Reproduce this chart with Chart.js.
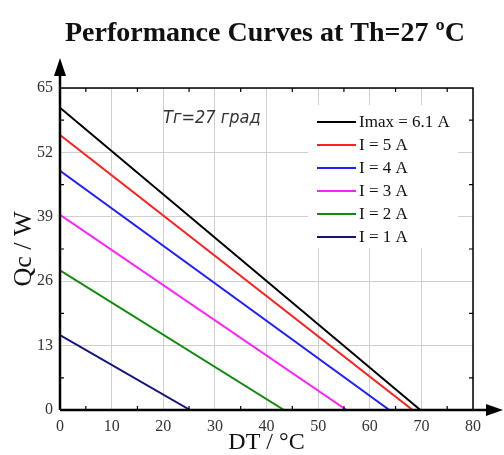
<!DOCTYPE html>
<html>
<head>
<meta charset="utf-8">
<script src="https://cdn.jsdelivr.net/npm/chart.js@4.4.0/dist/chart.umd.min.js"></script>
<style>
html, body { margin: 0; padding: 0; background: #fff; }
</style>
</head>
<body>
<canvas id="grafico" width="504" height="455"></canvas>
<script>
// Dados
const seriesLabels = ['Imax = 6.1 A', 'I = 5 A', 'I = 4 A', 'I = 3 A', 'I = 2 A', 'I = 1 A'];
const qcAtZero = [61, 55.5, 48.3, 39.4, 28.2, 15.1];   // Qc em DT = 0
const dtAtZeroQc = [69.8, 68.3, 63.8, 55.5, 43.4, 25.2]; // DT onde Qc = 0
const lineColors = ['#000000', '#ff1f1f', '#1f1fff', '#ff1fff', '#108a10', '#14147a'];
const xTicks = [0, 10, 20, 30, 40, 50, 60, 70, 80];
const yTicks = [0, 13, 26, 39, 52, 65];

const serif = '"Liberation Serif", "DejaVu Serif", serif';

const datasets = seriesLabels.map(function(label, i) {
    return {
        label: label,
        data: [{x: 0, y: qcAtZero[i]}, {x: dtAtZeroQc[i], y: 0}],
        borderColor: lineColors[i],
        borderWidth: 2,
        pointRadius: 0,
        showLine: true,
        fill: false
    };
});

// Moldura, setas, marcas, legenda e textos
const extras = {
    id: 'extras',
    afterDatasetsDraw(chart) {
        const ctx = chart.ctx;
        const a = chart.chartArea;
        const xs = chart.scales.x, ys = chart.scales.y;
        ctx.save();

        // moldura superior / direita
        ctx.strokeStyle = '#000';
        ctx.lineWidth = 1.5;
        ctx.beginPath();
        ctx.moveTo(a.left, a.top);
        ctx.lineTo(a.right, a.top);
        ctx.lineTo(a.right, a.bottom);
        ctx.stroke();

        // eixos com setas
        ctx.lineWidth = 2.5;
        ctx.beginPath();
        ctx.moveTo(a.left, a.bottom);
        ctx.lineTo(a.left, 70);
        ctx.moveTo(a.left, a.bottom);
        ctx.lineTo(492, a.bottom);
        ctx.stroke();
        ctx.fillStyle = '#000';
        ctx.beginPath();
        ctx.moveTo(a.left, 58);
        ctx.lineTo(a.left - 6, 76);
        ctx.lineTo(a.left + 6, 76);
        ctx.closePath();
        ctx.fill();
        ctx.beginPath();
        ctx.moveTo(503, a.bottom);
        ctx.lineTo(486, a.bottom - 6);
        ctx.lineTo(486, a.bottom + 6);
        ctx.closePath();
        ctx.fill();

        // marcas internas
        ctx.lineWidth = 1.2;
        ctx.beginPath();
        for (let v = 5; v < 80; v += 10) {
            const px = xs.getPixelForValue(v);
            ctx.moveTo(px, a.bottom); ctx.lineTo(px, a.bottom - 4);
            ctx.moveTo(px, a.top); ctx.lineTo(px, a.top + 4);
        }
        for (let v = 6.5; v < 65; v += 13) {
            const py = ys.getPixelForValue(v);
            ctx.moveTo(a.left, py); ctx.lineTo(a.left + 4, py);
            ctx.moveTo(a.right, py); ctx.lineTo(a.right - 4, py);
        }
        ctx.stroke();

        // legenda
        ctx.fillStyle = '#fff';
        ctx.fillRect(308, 105, 150, 143);
        ctx.font = '17px ' + serif;
        ctx.textBaseline = 'middle';
        chart.data.datasets.forEach(function(ds, i) {
            const y = 122 + i * 23;
            ctx.strokeStyle = ds.borderColor;
            ctx.lineWidth = 2.2;
            ctx.beginPath();
            ctx.moveTo(317, y);
            ctx.lineTo(356, y);
            ctx.stroke();
            ctx.fillStyle = '#111';
            ctx.fillText(ds.label, 359, y + 1);
        });

        // anotação
        ctx.fillStyle = '#333';
        ctx.font = 'italic 18px "Liberation Sans Narrow", "DejaVu Sans Condensed", sans-serif';
        ctx.textBaseline = 'alphabetic';
        ctx.fillText('Tг=27 град', 163, 123);

        // título
        ctx.fillStyle = '#111';
        ctx.font = 'bold 28px ' + serif;
        ctx.textAlign = 'center';
        ctx.textBaseline = 'middle';
        ctx.fillText('Performance Curves at Th=27 ºC', 265, 34);
        ctx.restore();
    }
};

new Chart(document.getElementById('grafico'), {
    type: 'scatter',
    data: { datasets: datasets },
    options: {
        responsive: false,
        animation: false,
        layout: { padding: { top: 88, right: 31, left: 0, bottom: 0 } },
        plugins: {
            legend: { display: false },
            tooltip: { enabled: false }
        },
        scales: {
            x: {
                type: 'linear',
                min: 0,
                max: 80,
                afterFit: function(s) { s.height = 45; },
                afterBuildTicks: function(s) { s.ticks = xTicks.map(v => ({value: v})); },
                grid: { color: '#cfcfcf', lineWidth: 1, drawTicks: false },
                border: { display: false },
                ticks: { padding: 7, color: '#333', font: { family: serif, size: 16 } },
                title: {
                    display: true,
                    text: 'DT / °C',
                    color: '#111',
                    font: { family: serif, size: 24, lineHeight: 1 },
                    padding: { top: 0, bottom: 0 }
                }
            },
            y: {
                type: 'linear',
                min: 0,
                max: 65,
                afterFit: function(s) { s.width = 60; },
                afterBuildTicks: function(s) { s.ticks = yTicks.map(v => ({value: v})); },
                grid: { color: '#cfcfcf', lineWidth: 1, drawTicks: false },
                border: { display: false },
                ticks: { padding: 7, color: '#333', font: { family: serif, size: 16 } },
                title: {
                    display: true,
                    text: 'Qc / W',
                    color: '#111',
                    font: { family: serif, size: 26, lineHeight: 1 },
                    padding: { top: 11, bottom: 0 }
                }
            }
        }
    },
    plugins: [extras]
});
</script>
</body>
</html>
